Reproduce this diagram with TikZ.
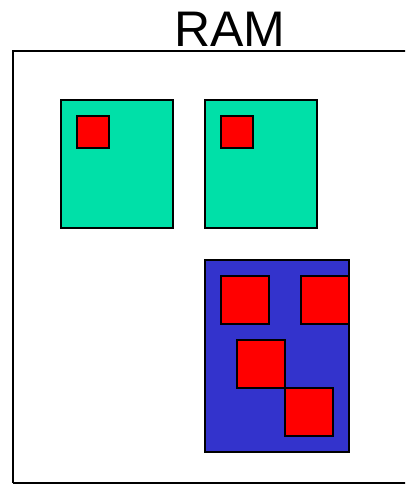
\documentclass[tikz,border=0pt]{standalone}
\usepackage{fontspec}
\setmainfont{Liberation Sans}
\definecolor{segGreen}{RGB}{0,224,168}
\definecolor{segBlue}{RGB}{51,51,204}
\tikzset{
  segment/.style={draw=black, line width=1.3pt},
  page/.style={fill=red, draw=black, line width=1.3pt}
}
\begin{document}
\begin{tikzpicture}[x=1pt, y=-1pt]
    \useasboundingbox (0,0) rectangle (405,484);
    \begin{scope}
        \clip (0,0) rectangle (405,484);
        \draw[line width=1.6pt] (13,483) -- (13,51) -- (420,51);
        \draw[line width=1.6pt] (13,483) -- (420,483);
    \end{scope}
    \node (ram) at (230,29) {\fontsize{50}{50}\selectfont RAM};

    % two small segments
    \draw[segment, fill=segGreen] (61,100) rectangle (173,228);
    \draw[page] (77,116) rectangle (109,148);
    \draw[segment, fill=segGreen] (205,100) rectangle (317,228);
    \draw[page] (221,116) rectangle (253,148);

    % large segment
    \draw[segment, fill=segBlue] (205,260) rectangle (349,452);
    \draw[page] (221,276) rectangle (269,324);
    \draw[page] (301,276) rectangle (349,324);
    \draw[page] (237,340) rectangle (285,388);
    \draw[page] (285,388) rectangle (333,436);
\end{tikzpicture}
\end{document}
